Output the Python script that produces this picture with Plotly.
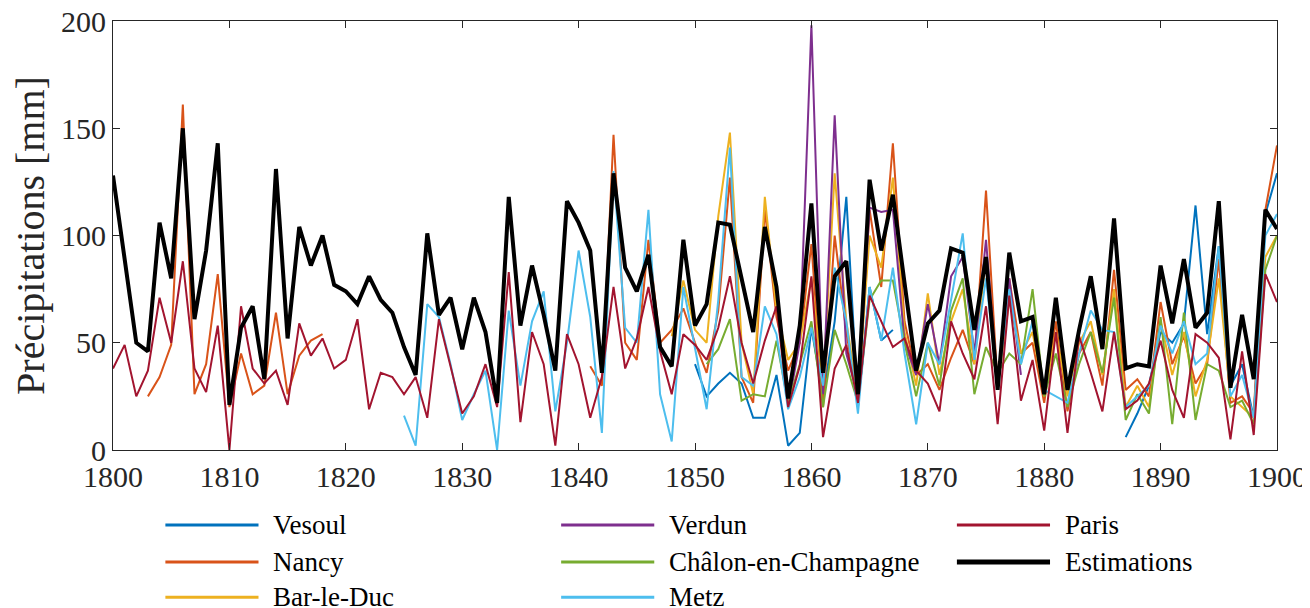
import plotly.graph_objects as go

years = list(range(1800, 1901))

# estimated values, one per year (None = no record)
estimations = [128, 88, 50, 46, 106, 80, 150, 61, 93, 143,
               21, 57, 67, 33, 131, 52, 104, 86, 100, 77,
               74, 68, 81, 70, 64, 48, 35, 101, 63, 71,
               47, 71, 55, 22, 118, 58, 86, 63, 37, 116,
               106, 93, 36, 129, 85, 74, 91, 48, 39, 98,
               58, 68, 106, 105, 80, 55, 104, 76, 24, 58,
               115, 36, 81, 88, 26, 126, 93, 119, 78, 37,
               59, 65, 94, 92, 56, 90, 28, 92, 60, 62,
               26, 71, 28, 56, 81, 47, 108, 38, 40, 39,
               86, 59, 89, 57, 64, 116, 29, 63, 33, 112, 103]

paris = [38, 49, 25, 37, 71, 50, 88, 38, 27, 58,
         0, 67, 38, 31, 37, 21, 59, 44, 52, 38,
         42, 61, 19, 36, 34, 26, 34, 15, 61, 39,
         17, 25, 40, 20, 83, 13, 55, 40, 2, 54,
         40, 15, 34, 76, 38, 52, 76, 46, 26, 54,
         49, 42, 57, 81, 50, 31, 51, 67, 20, 39,
         81, 6, 38, 49, 22, 72, 60, 48, 52, 37,
         31, 18, 60, 45, 33, 67, 12, 72, 23, 42,
         9, 55, 8, 53, 36, 18, 55, 19, 23, 31,
         51, 28, 15, 54, 50, 43, 5, 46, 7, 82, 69]

nancy = ([None] * 3 +
         [25, 34, 49, 161, 26, 40, 82, 20, 45, 26, 30, 64, 26, 44, 51, 54] +
         [None] * 22 +
         [39, 30, 147, 50, 42, 98, 50, 56, 66,
          50, 36, 65, 127, 34, 22, 112, 62, 37, 50,
          96, 20, 100, 55, 22, 112, 76, 143, 60, 35,
          40, 28, 43, 56, 40, 121, 30, 80, 45, 50,
          22, 60, 18, 45, 55, 30, 84, 28, 33, 25,
          69, 40, 53, 31, 40, 89, 22, 25, 17, 112, 142])

metz = ([None] * 25 +
        [16, 2, 68, 62, 40,
         14, 26, 37, 0, 65, 30, 60, 74, 18, 50,
         93, 62, 8, 130, 57, 50, 112, 26, 4, 76,
         48, 19, 70, 141, 34, 30, 67, 54, 19, 34,
         57, 30, 85, 60, 17, 76, 51, 85, 45, 12,
         50, 40, 70, 101, 42, 80, 30, 75, 40, 60,
         28, 25, 22, 45, 65, 56, 55, 20, 25, 30,
         58, 45, 60, 40, 45, 95, 25, 35, 15, 100, 110])

vesoul = ([None] * 50 +
          [40, 25, 31, 36, 31, 15, 15, 35, 2, 8,
           57, 25, 60, 118, 20, 76, 51, 56] +
          [None] * 19 +
          [6, 17, 30, 55, 50, 59, 114, 54, 95, 30, 40, 15, 110, 129])

verdun = ([None] * 58 +
          [20, 50, 198, 26, 156, 45, 25, 113, 111, 112,
           50, 35, 68, 40, 81, 90, 45, 98, 30, 80, 35] +
          [None] * 22)

chalon = ([None] * 51 +
          [40, 47, 61, 23, 26, 25, 51, 22, 40,
           60, 20, 56, 40, 22, 70, 79, 79, 50, 25,
           50, 30, 65, 80, 26, 48, 36, 45, 40, 75,
           25, 45, 20, 40, 55, 36, 71, 14, 26, 17,
           62, 12, 64, 14, 40, 37, 20, 23, 12, 84, 100])

barleduc = ([None] * 48 +
            [53, 79,
             56, 50, 109, 148, 50, 26, 118, 65, 42, 50,
             80, 30, 129, 60, 25, 100, 85, 127, 55, 30,
             73, 35, 60, 75, 40, 90, 30, 70, 45, 55,
             25, 55, 25, 50, 60, 35, 75, 20, 30, 20,
             60, 35, 55, 25, 42, 80, 25, 20, 15, 90, 100])

series = [
    ("Vesoul", vesoul, "#0072BD", 2),
    ("Nancy", nancy, "#D95319", 2),
    ("Bar-le-Duc", barleduc, "#EDB120", 2),
    ("Verdun", verdun, "#7E2F8E", 2),
    ("Châlon-en-Champagne", chalon, "#77AC30", 2),
    ("Metz", metz, "#4DBEEE", 2),
    ("Paris", paris, "#A2142F", 2),
    ("Estimations", estimations, "black", 4),
]

font = "Liberation Serif, Times New Roman, serif"
fig = go.Figure()
for name, vals, color, w in series:
    fig.add_trace(go.Scatter(x=years, y=vals, mode="lines", name=name,
                             line=dict(color=color, width=w),
                             connectgaps=False, showlegend=False))

# legend drawn by hand: 3 columns, filled column by column
col_x = [0.045, 0.385, 0.725]
row_y = [-0.175, -0.261, -0.343]
for i, (name, vals, color, w) in enumerate(series):
    cx = col_x[i // 3]
    ry = row_y[i % 3]
    fig.add_shape(type="line", xref="paper", yref="paper",
                  x0=cx, x1=cx + 0.08, y0=ry, y1=ry,
                  line=dict(color=color, width=w + 1))
    fig.add_annotation(xref="paper", yref="paper", x=cx + 0.091, y=ry,
                       text=name, showarrow=False, xanchor="left",
                       yanchor="middle",
                       font=dict(family=font, size=27, color="black"))

axis_style = dict(showline=True, mirror="ticks", linecolor="#262626",
                  linewidth=1, ticks="inside", ticklen=7, tickcolor="#262626",
                  showgrid=False, zeroline=False, automargin=False,
                  ticklabeloverflow="allow",
                  tickfont=dict(family=font, size=30, color="#262626"))

fig.update_xaxes(range=[1800, 1900], dtick=10, tick0=1800, **axis_style)
fig.update_yaxes(range=[0, 200], dtick=50,
                 title=dict(text="Précipitations [mm]",
                            font=dict(family=font, size=40, color="#262626"),
                            standoff=8),
                 **axis_style)

# page body adds 8px around the plot, so the figure is 8px smaller
fig.update_layout(
    width=1302, height=600,
    margin=dict(l=105, r=33, t=13, b=158),
    plot_bgcolor="white", paper_bgcolor="white",
    showlegend=False,
)

fig.write_html("out.html")
